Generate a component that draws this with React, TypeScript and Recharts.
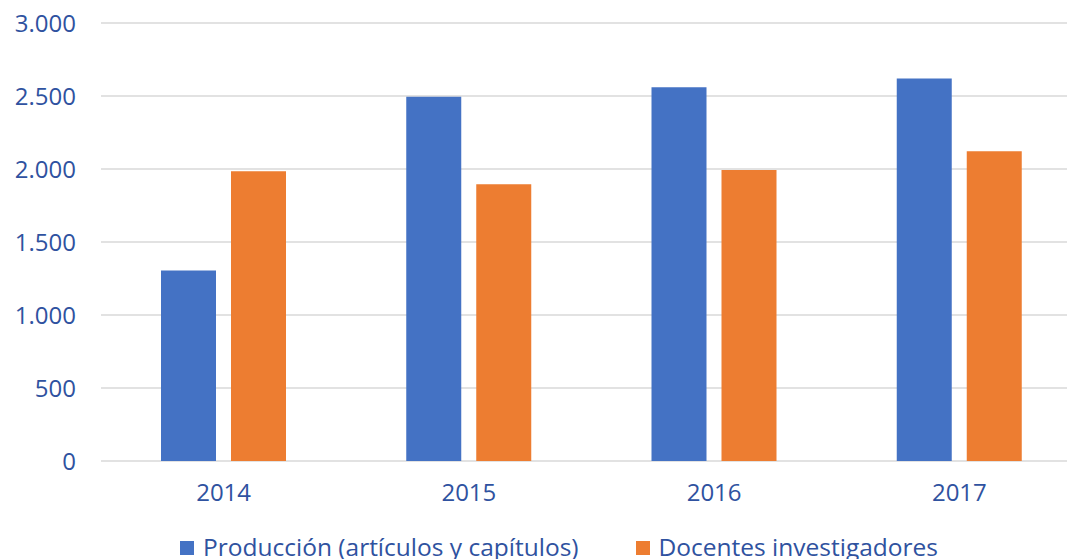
import React from "react";
import { BarChart, Bar, XAxis, YAxis, CartesianGrid, Legend } from "recharts";

const years = ["2014", "2015", "2016", "2017"];
const produccion = [1305, 2495, 2560, 2620];
const docentes = [1985, 1895, 1993, 2122];
const yTicks = [0, 500, 1000, 1500, 2000, 2500, 3000];

const seriesNames = ["Producción (artículos y capítulos)", "Docentes investigadores"];
const colors = ["#4472C4", "#ED7D31"];

const data = years.map((y, i) => ({ year: y, produccion: produccion[i], docentes: docentes[i] }));

const TEXT = "#2F52A0";
const FONT = "'Open Sans', sans-serif";

const fmt = (v: number) => v.toString().replace(/\B(?=(\d{3})+(?!\d))/g, ".");

const LegendContent = (props: any) => {
  const payload = [...(props.payload || [])].sort(
    (a: any, b: any) => seriesNames.indexOf(a.value) - seriesNames.indexOf(b.value)
  );
  return (
    <div style={{ display: "flex", flexDirection: "row", fontFamily: FONT, fontSize: 24.5, lineHeight: "24px", color: TEXT, whiteSpace: "nowrap" }}>
      {payload.map((p: any, i: number) => (
        <div key={i} style={{ display: "flex", alignItems: "flex-start", marginRight: 57 }}>
          <div style={{ width: 14, height: 14, background: p.color, marginTop: 6, marginRight: 9 }} />
          <span>{p.value}</span>
        </div>
      ))}
    </div>
  );
};

export default function App() {
  return (
    <div style={{ position: "fixed", left: 0, top: 0, width: 1067, height: 559, overflow: "hidden", background: "#fff" }}>
      <BarChart
        width={1090}
        height={559}
        data={data}
        margin={{ top: 23, right: 8, left: 0, bottom: 0 }}
        barSize={55}
        barGap={15}
      >
        <CartesianGrid vertical={false} stroke="#D9D9D9" strokeWidth={1.5} />
        <XAxis
          dataKey="year"
          axisLine={false}
          tickLine={false}
          tickSize={0}
          tickMargin={23}
          height={98}
          tick={{ fill: TEXT, fontSize: 24, fontFamily: FONT }}
        />
        <YAxis
          domain={[0, 3000]}
          ticks={yTicks}
          interval={0}
          axisLine={false}
          tickLine={false}
          tickSize={0}
          tickMargin={25}
          width={101}
          tickFormatter={fmt}
          tick={{ fill: TEXT, fontSize: 24, fontFamily: FONT }}
        />
        <Legend
          layout="horizontal"
          verticalAlign="middle"
          align="center"
          itemSorter={null as any}
          content={<LegendContent />}
          wrapperStyle={{ left: 180, top: 535, width: 900, height: 24 }}
        />
        <Bar dataKey="produccion" name={seriesNames[0]} fill={colors[0]} isAnimationActive={false} />
        <Bar dataKey="docentes" name={seriesNames[1]} fill={colors[1]} isAnimationActive={false} />
      </BarChart>
    </div>
  );
}
